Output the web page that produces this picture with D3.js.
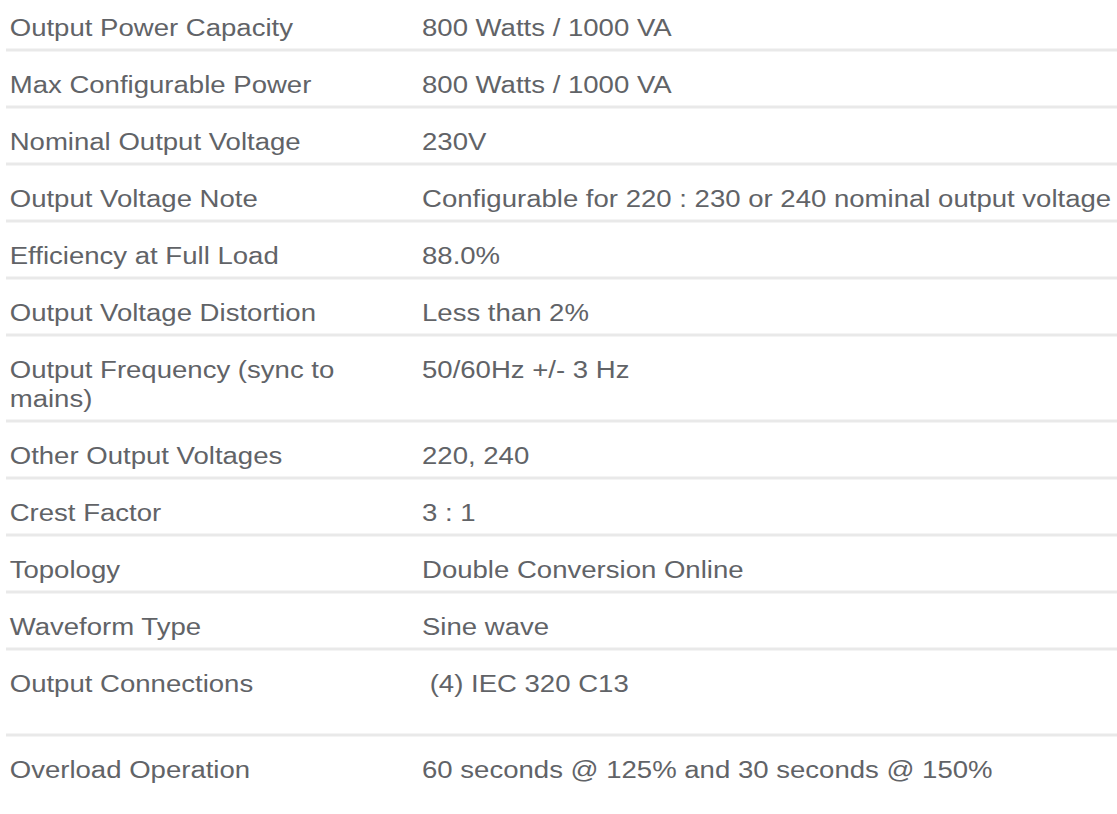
<!DOCTYPE html>
<html>
<head>
<meta charset="utf-8">
<script src="https://cdn.jsdelivr.net/npm/d3@7"></script>
<style>
  html, body { margin: 0; padding: 0; background: #ffffff; }
  svg { display: block; }
  text { white-space: pre; }
</style>
</head>
<body>
<div id="chart"></div>
<script>
// ---- data ----
const labels = [
  "Output Power Capacity",
  "Max Configurable Power",
  "Nominal Output Voltage",
  "Output Voltage Note",
  "Efficiency at Full Load",
  "Output Voltage Distortion",
  "Output Frequency (sync to\nmains)",
  "Other Output Voltages",
  "Crest Factor",
  "Topology",
  "Waveform Type",
  "Output Connections",
  "Overload Operation"
];
const values = [
  "800 Watts / 1000 VA",
  "800 Watts / 1000 VA",
  "230V",
  "Configurable for 220 : 230 or 240 nominal output voltage",
  "88.0%",
  "Less than 2%",
  "50/60Hz +/- 3 Hz",
  "220, 240",
  "3 : 1",
  "Double Conversion Online",
  "Sine wave",
  " (4) IEC 320 C13\n",
  "60 seconds @ 125% and 30 seconds @ 150%"
];

// ---- layout ----
const W = 1117, H = 814;
const lineStep = 29, rowBase = 57, startY = -7, baseOff = 42.5;
const rows = labels.map((l, i) => ({ label: l.split("\n"), value: values[i].split("\n"), i }));
let y = startY;
rows.forEach(r => {
  const n = Math.max(r.label.length, r.value.length);
  r.top = y;
  r.h = rowBase + lineStep * (n - 1);
  y += r.h;
  r.bottom = y;
});

const xScale = d3.scaleOrdinal().domain(["label", "value"]).range([9.7, 422]);
const sx = 1.125;

const svg = d3.select("#chart").append("svg")
  .attr("width", W).attr("height", H);
svg.append("rect").attr("width", W).attr("height", H).attr("fill", "#ffffff");

const g = svg.selectAll("g.row").data(rows).join("g").attr("class", "row");

// separator lines
g.filter(d => d.i < rows.length - 1).append("rect")
  .attr("x", 6).attr("width", W - 6)
  .attr("y", d => d.bottom - 1.5).attr("height", 3)
  .attr("fill", "#e9e9e9");

const font = "'Liberation Sans', Arial, Helvetica, sans-serif";
const color = "#616367";

g.each(function(d) {
  const sel = d3.select(this);
  const put = (col, lines) => lines.forEach((line, k) => {
    if (!line) return;
    sel.append("text")
      .attr("transform", `translate(${xScale(col)},${d.top + baseOff + k * lineStep}) scale(${sx},1)`)
      .attr("font-family", font).attr("font-size", 24.5)
      .attr("fill", color)
      .text(line);
  });
  put("label", d.label);
  put("value", d.value);
});
</script>
</body>
</html>
